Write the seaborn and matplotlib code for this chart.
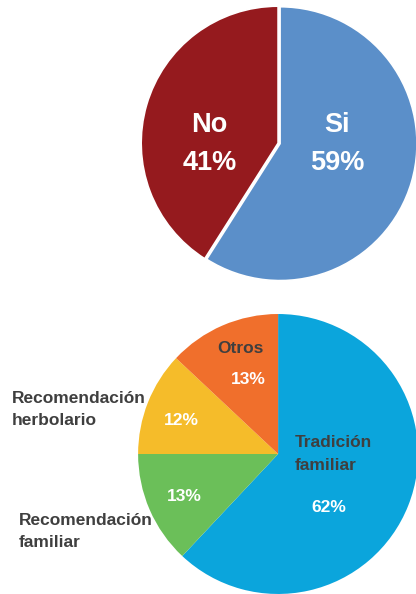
import matplotlib.pyplot as plt
import seaborn as sns

sns.set_theme(style="white")
plt.rcParams['font.family'] = ['Liberation Sans', 'DejaVu Sans']

# top pie: uso de plantas
uso_labels = ['Si', 'No']
uso_values = [59, 41]
uso_colors = ['#5B8FC9', '#951A1E']

# bottom pie: motivo
motivo_labels = ['Tradición\nfamiliar', 'Recomendación\nfamiliar', 'Recomendación\nherbolario', 'Otros']
motivo_values = [62, 13, 12, 13]
motivo_colors = ['#0BA5DC', '#6BBF59', '#F5BC2A', '#F06F2C']

dark = '#3F3F3F'

fig = plt.figure(figsize=(4.16, 5.94), dpi=100)

# Top pie
ax1 = fig.add_axes([0.337, 0.5286, 0.663, 0.461])
ax1.pie(uso_values, colors=uso_colors, startangle=90, counterclock=False,
        explode=[0.015, 0], wedgeprops=dict(edgecolor='white', linewidth=1.2))
ax1.set_xlim(-1.0, 1.0)
ax1.set_ylim(-1.0, 1.0)
ax1.set_aspect('equal')
ax1.axis('off')

top_pos = {'Si': (0.43, 0.0), 'No': (-0.50, 0.0)}
for lab, val in zip(uso_labels, uso_values):
    x, y = top_pos[lab]
    ax1.text(x, y + 0.13, lab, ha='center', va='center', color='white',
             fontsize=19.5, fontweight='bold')
    ax1.text(x, y - 0.146, f'{val}%', ha='center', va='center', color='white',
             fontsize=19.5, fontweight='bold')

# Bottom pie
ax2 = fig.add_axes([0.332, 0.0, 0.673, 0.4714])
ax2.pie(motivo_values, colors=motivo_colors, startangle=90, counterclock=False,
        wedgeprops=dict(edgecolor='none'))
ax2.set_xlim(-1.0, 1.0)
ax2.set_ylim(-1.0, 1.0)
ax2.set_aspect('equal')
ax2.axis('off')

fs = 12.5
ls = 1.6
# Tradición familiar
ax2.text(0.121, 0.0, motivo_labels[0], ha='left', va='center', color=dark,
         fontsize=fs, fontweight='bold', linespacing=ls)
ax2.text(0.364, -0.379, f'{motivo_values[0]}%', ha='center', va='center',
         color='white', fontsize=fs, fontweight='bold')
# Recomendación familiar
ax2.text(-0.67, -0.307, f'{motivo_values[1]}%', ha='center', va='center',
         color='white', fontsize=fs, fontweight='bold')
ax2.text(-1.85, -0.553, motivo_labels[1], ha='left', va='center', color=dark,
         fontsize=fs, fontweight='bold', linespacing=ls, clip_on=False)
# Recomendación herbolario
ax2.text(-0.69, 0.236, f'{motivo_values[2]}%', ha='center', va='center',
         color='white', fontsize=fs, fontweight='bold')
ax2.text(-1.9, 0.318, motivo_labels[2], ha='left', va='center', color=dark,
         fontsize=fs, fontweight='bold', linespacing=ls, clip_on=False)
# Otros
ax2.text(-0.27, 0.757, motivo_labels[3], ha='center', va='center', color=dark,
         fontsize=fs, fontweight='bold')
ax2.text(-0.214, 0.53, f'{motivo_values[3]}%', ha='center', va='center',
         color='white', fontsize=fs, fontweight='bold')

fig.savefig('out.png', dpi=100)
